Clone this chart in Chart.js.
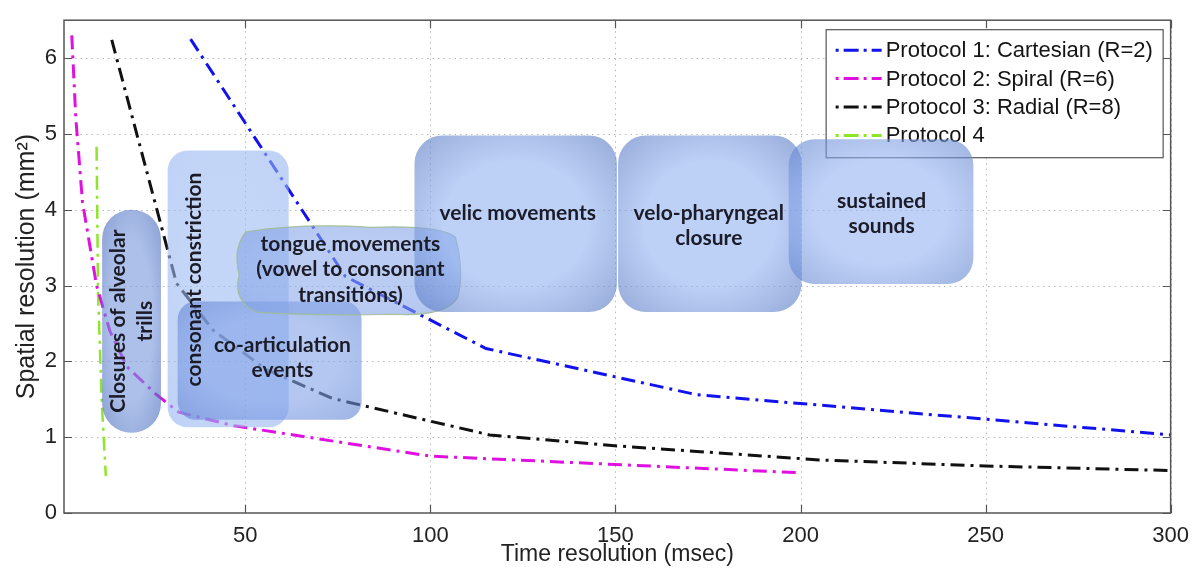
<!DOCTYPE html>
<html>
<head>
<meta charset="utf-8">
<title>Spatial vs time resolution</title>
<script src="https://cdn.jsdelivr.net/npm/chart.js@4.4.1/dist/chart.umd.min.js"></script>
<style>
  html, body { margin: 0; padding: 0; background: #fff; }
</style>
</head>
<body>
<canvas id="chart" width="1199" height="574"></canvas>
<script>
// Protocol curves: time resolution (msec) vs spatial resolution (mm^2)
const p1Time = [35.2, 77, 115, 172, 300];
const p1Area = [6.25, 3.12, 2.17, 1.56, 1.03];
const p2Time = [3.1, 4.2, 6, 9.8, 13.4, 18, 26, 32, 47, 100, 200];
const p2Area = [6.3, 5.2, 4.1, 3.0, 2.4, 1.93, 1.56, 1.33, 1.15, 0.75, 0.53];
const p3Time = [13.9, 31.4, 41.3, 55.7, 73.6, 116, 149, 205, 250, 300];
const p3Area = [6.24, 3.03, 2.41, 1.89, 1.51, 1.03, 0.89, 0.70, 0.62, 0.56];
const p4Time = [9.8, 10.2, 11.2, 12.3];
const p4Area = [4.83, 2.9, 1.46, 0.49];

const seriesNames = ['Protocol 1: Cartesian (R=2)', 'Protocol 2: Spiral (R=6)', 'Protocol 3: Radial (R=8)', 'Protocol 4'];
const xTicks = [50, 100, 150, 200, 250, 300];
const yTicks = [0, 1, 2, 3, 4, 5, 6];

// speech task regions, in axis units (msec, mm^2)
const regions = [
  { lines: ['consonant constriction'], x: [29.0, 61.7], y: [1.13, 4.78], text: [36.3, 3.08], vertical: true, r: 20, tone: 'light' },
  { lines: ['Closures of alveolar', 'trills'], x: [11.3, 27.2], y: [1.06, 4.0], text: [19.2, 2.53], vertical: true, r: 29, tone: 'dark' },
  { lines: ['co-articulation', 'events'], x: [31.7, 81.4], y: [1.23, 2.79], text: [60.0, 2.05], r: 18, tone: 'mid' },
  { lines: ['tongue movements', '(vowel to consonant', 'transitions)'], x: [47.1, 108.6], y: [2.61, 3.78], text: [78.4, 3.21], blob: true, tone: 'tongue' },
  { lines: ['velic movements'], x: [95.7, 150.4], y: [2.65, 4.98], text: [123.6, 3.95], r: 28, tone: 'big' },
  { lines: ['velo-pharyngeal', 'closure'], x: [150.7, 200.3], y: [2.65, 4.98], text: [175.2, 3.79], r: 28, tone: 'big' },
  { lines: ['sustained', 'sounds'], x: [196.8, 246.7], y: [3.02, 4.93], text: [221.9, 3.95], r: 26, tone: 'soft' }
];

// [centre, edge] colours, painted at 60% opacity
const tones = {
  light:  ['rgb(157,187,242)', 'rgb(150,181,240)'],
  dark:   ['rgb(118,150,220)', 'rgb(68,102,187)'],
  mid:    ['rgb(130,162,232)', 'rgb(100,134,214)'],
  tongue: ['rgb(140,170,234)', 'rgb(128,160,228)'],
  big:    ['rgb(145,177,240)', 'rgb(90,123,199)'],
  soft:   ['rgb(148,178,241)', 'rgb(100,135,209)']
};

const colors = ['#1212ee', '#e010e0', '#111111', '#8ee62a'];
const dash = [14, 6, 3, 6];

function toPoints(xs, ys) {
  return xs.map((x, i) => ({ x: x, y: ys[i] }));
}

function roundRectPath(ctx, x, y, w, h, r) {
  r = Math.min(r, w / 2, h / 2);
  ctx.beginPath();
  ctx.moveTo(x + r, y);
  ctx.arcTo(x + w, y, x + w, y + h, r);
  ctx.arcTo(x + w, y + h, x, y + h, r);
  ctx.arcTo(x, y + h, x, y, r);
  ctx.arcTo(x, y, x + w, y, r);
  ctx.closePath();
}

// hand-drawn looking outline for the tongue region
function blobPath(ctx, x, y, w, h) {
  ctx.beginPath();
  ctx.moveTo(x + 0.05 * w, y + 0.06 * h);
  ctx.quadraticCurveTo(x + 0.3 * w, y - 0.04 * h, x + 0.6 * w, y + 0.01 * h);
  ctx.quadraticCurveTo(x + 0.9 * w, y - 0.02 * h, x + 0.97 * w, y + 0.12 * h);
  ctx.quadraticCurveTo(x + 1.01 * w, y + 0.5 * h, x + 0.98 * w, y + 0.8 * h);
  ctx.quadraticCurveTo(x + 0.93 * w, y + 1.02 * h, x + 0.7 * w, y + 0.99 * h);
  ctx.quadraticCurveTo(x + 0.35 * w, y + 1.01 * h, x + 0.1 * w, y + 0.97 * h);
  ctx.quadraticCurveTo(x - 0.01 * w, y + 0.85 * h, x + 0.02 * w, y + 0.55 * h);
  ctx.quadraticCurveTo(x - 0.01 * w, y + 0.25 * h, x + 0.05 * w, y + 0.06 * h);
  ctx.closePath();
}

function drawRegion(ctx, sx, sy, reg) {
  const x0 = sx.getPixelForValue(reg.x[0]), x1 = sx.getPixelForValue(reg.x[1]);
  const y0 = sy.getPixelForValue(reg.y[1]), y1 = sy.getPixelForValue(reg.y[0]);
  const w = x1 - x0, h = y1 - y0;
  const cx = x0 + w / 2, cy = y0 + h / 2;
  const tone = tones[reg.tone];
  ctx.save();
  ctx.globalAlpha = 0.6;
  if (reg.blob) blobPath(ctx, x0, y0, w, h);
  else roundRectPath(ctx, x0, y0, w, h, reg.r);
  ctx.save();
  ctx.translate(cx, cy);
  ctx.scale(w / 2, h / 2);
  const g = ctx.createRadialGradient(0, 0, 0, 0, 0, 1.3);
  g.addColorStop(0, tone[0]);
  g.addColorStop(0.55, tone[0]);
  g.addColorStop(1, tone[1]);
  ctx.fillStyle = g;
  ctx.fill();
  ctx.restore();
  if (reg.blob) {
    ctx.globalAlpha = 0.9;
    ctx.strokeStyle = 'rgb(160,190,150)';
    ctx.lineWidth = 1.2;
    ctx.stroke();
  }
  ctx.restore();
}

function drawRegionText(ctx, sx, sy, reg) {
  const tx = sx.getPixelForValue(reg.text[0]);
  const ty = sy.getPixelForValue(reg.text[1]);
  const gap = reg.vertical ? 27 : 25.5;
  ctx.save();
  ctx.fillStyle = '#1c1c28';
  ctx.font = 'bold 21px Lato, "Open Sans", sans-serif';
  ctx.textAlign = 'center';
  ctx.textBaseline = 'middle';
  ctx.translate(tx, ty);
  if (reg.vertical) ctx.rotate(-Math.PI / 2);
  const n = reg.lines.length;
  reg.lines.forEach((s, i) => {
    ctx.fillText(s, 0, (i - (n - 1) / 2) * gap);
  });
  ctx.restore();
}

function drawLegend(chart) {
  const { ctx, chartArea: a } = chart;
  const w = 337, h = 128;
  const left = a.right - 8 - w, top = a.top + 9;
  ctx.save();
  ctx.fillStyle = '#fff';
  ctx.fillRect(left, top, w, h);
  ctx.strokeStyle = '#555';
  ctx.lineWidth = 1.2;
  ctx.strokeRect(left + 0.5, top + 0.5, w, h);
  ctx.font = '22px "Liberation Sans", Arial, sans-serif';
  ctx.textBaseline = 'middle';
  ctx.fillStyle = '#141414';
  chart.data.datasets.forEach((ds, i) => {
    const yy = top + 21 + i * 28.4;
    ctx.beginPath();
    ctx.setLineDash([3, 5, 15, 5]);
    ctx.strokeStyle = ds.borderColor;
    ctx.lineWidth = 3;
    ctx.moveTo(left + 10, yy);
    ctx.lineTo(left + 56, yy);
    ctx.stroke();
    ctx.setLineDash([]);
    ctx.fillText(ds.label, left + 60, yy + 1);
  });
  ctx.restore();
}

const axesPlugin = {
  id: 'matlabAxes',
  beforeDatasetsDraw(chart) {
    const { ctx, chartArea: a, scales } = chart;
    ctx.save();
    ctx.strokeStyle = '#b8b8b8';
    ctx.lineWidth = 1;
    ctx.setLineDash([1.5, 4]);
    xTicks.forEach(v => {
      const px = Math.round(scales.x.getPixelForValue(v)) + 0.5;
      ctx.beginPath(); ctx.moveTo(px, a.top); ctx.lineTo(px, a.bottom); ctx.stroke();
    });
    yTicks.slice(1).forEach(v => {
      const py = Math.round(scales.y.getPixelForValue(v)) + 0.5;
      ctx.beginPath(); ctx.moveTo(a.left, py); ctx.lineTo(a.right, py); ctx.stroke();
    });
    ctx.restore();
  },
  afterDatasetsDraw(chart) {
    const { ctx, chartArea: a, scales } = chart;
    // axes box with inward ticks
    ctx.save();
    ctx.strokeStyle = '#555';
    ctx.lineWidth = 1.5;
    ctx.strokeRect(a.left, a.top, a.right - a.left, a.bottom - a.top);
    ctx.lineWidth = 1.2;
    xTicks.forEach(v => {
      const px = Math.round(scales.x.getPixelForValue(v)) + 0.5;
      ctx.beginPath();
      ctx.moveTo(px, a.bottom); ctx.lineTo(px, a.bottom - 8);
      ctx.moveTo(px, a.top); ctx.lineTo(px, a.top + 8);
      ctx.stroke();
    });
    yTicks.forEach(v => {
      const py = Math.round(scales.y.getPixelForValue(v)) + 0.5;
      ctx.beginPath();
      ctx.moveTo(a.left, py); ctx.lineTo(a.left + 8, py);
      ctx.moveTo(a.right, py); ctx.lineTo(a.right - 8, py);
      ctx.stroke();
    });
    ctx.restore();

    drawLegend(chart);
    regions.forEach(r => drawRegion(ctx, scales.x, scales.y, r));
    regions.forEach(r => drawRegionText(ctx, scales.x, scales.y, r));
  }
};

const tickFont = { family: '"Liberation Sans", Arial, sans-serif', size: 22 };

new Chart(document.getElementById('chart'), {
  type: 'scatter',
  data: {
    datasets: [
      [p1Time, p1Area, 3], [p2Time, p2Area, 3], [p3Time, p3Area, 3], [p4Time, p4Area, 2.5]
    ].map((s, i) => ({
      label: seriesNames[i],
      data: toPoints(s[0], s[1]),
      showLine: true,
      borderColor: colors[i],
      backgroundColor: colors[i],
      borderWidth: s[2],
      borderDash: dash,
      pointRadius: 0,
      tension: 0
    }))
  },
  options: {
    responsive: false,
    animation: false,
    devicePixelRatio: 1,
    layout: { padding: { top: 13, right: 26, left: 0, bottom: 0 } },
    plugins: {
      legend: { display: false },
      tooltip: { enabled: false }
    },
    scales: {
      x: {
        type: 'linear',
        min: 1,
        max: 300,
        grid: { display: false, drawTicks: false },
        border: { display: false },
        afterBuildTicks: s => { s.ticks = xTicks.map(v => ({ value: v })); },
        afterFit: s => { s.height = 61; },
        ticks: { font: tickFont, color: '#222', padding: 10, maxRotation: 0 },
        title: {
          display: true,
          text: 'Time resolution (msec)',
          font: { family: '"Liberation Sans", Arial, sans-serif', size: 23 },
          color: '#222',
          padding: { top: 0, bottom: 6 }
        }
      },
      y: {
        type: 'linear',
        min: 0,
        max: 6.5,
        grid: { display: false, drawTicks: false },
        border: { display: false },
        afterBuildTicks: s => { s.ticks = yTicks.map(v => ({ value: v })); },
        afterFit: s => { s.width = 64; },
        ticks: { font: tickFont, color: '#222', padding: 7 },
        title: {
          display: true,
          text: 'Spatial resolution (mm²)',
          font: { family: '"Liberation Sans", Arial, sans-serif', size: 25 },
          color: '#222',
          padding: { top: 12, bottom: 0 }
        }
      }
    }
  },
  plugins: [axesPlugin]
});
</script>
</body>
</html>
